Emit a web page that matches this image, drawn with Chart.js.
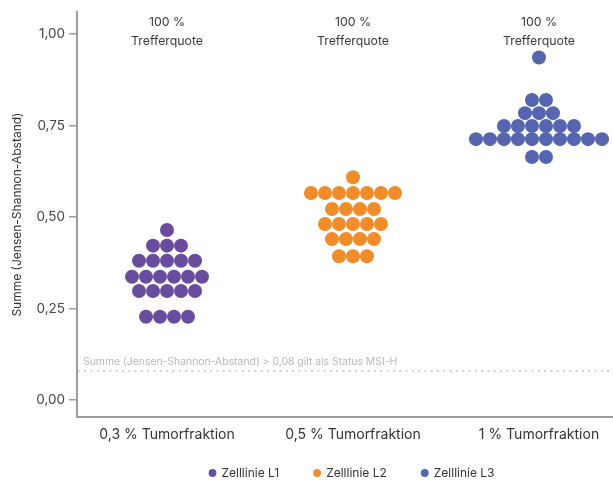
<!DOCTYPE html>
<html><head><meta charset="utf-8">
<script src="https://cdn.jsdelivr.net/npm/chart.js@4/dist/chart.umd.min.js"></script>
<style>html,body{margin:0;padding:0;background:#fff}#wrap{width:613px;height:482px;position:relative}</style>
</head><body><div id="wrap"><canvas id="c"></canvas></div>
<script>
const categories = ['0,3 % Tumorfraktion', '0,5 % Tumorfraktion', '1 % Tumorfraktion'];
const seriesNames = ['Zelllinie L1', 'Zelllinie L2', 'Zelllinie L3'];
const hitRates = ['100 %', '100 %', '100 %'];
const hitLabel = 'Trefferquote';
const yTicks = [0, 0.25, 0.5, 0.75, 1];
const threshold = 0.08;
const thresholdText = 'Summe (Jensen-Shannon-Abstand) > 0,08 gilt als Status MSI-H';
const yTitle = 'Summe (Jensen-Shannon-Abstand)';

// one value per replicate (dots)
const valuesL1 = [0.465,
  0.422, 0.422, 0.422,
  0.381, 0.381, 0.381, 0.381, 0.381,
  0.337, 0.337, 0.337, 0.337, 0.337, 0.337,
  0.298, 0.298, 0.298, 0.298, 0.298,
  0.228, 0.228, 0.228, 0.228];
const valuesL2 = [0.609,
  0.566, 0.566, 0.566, 0.566, 0.566, 0.566, 0.566,
  0.522, 0.522, 0.522, 0.522,
  0.481, 0.481, 0.481, 0.481, 0.481,
  0.440, 0.440, 0.440, 0.440,
  0.393, 0.393, 0.393];
const valuesL3 = [0.936,
  0.820, 0.820,
  0.784, 0.784, 0.784,
  0.749, 0.749, 0.749, 0.749, 0.749, 0.749,
  0.713, 0.713, 0.713, 0.713, 0.713, 0.713, 0.713, 0.713, 0.713, 0.713,
  0.664, 0.664];

const colors = ['#6a4c9f', '#f08c2a', '#5565b0'];
const DOT_STEP = 0.0753; // horizontal spacing of swarm dots in x-units

// simple beeswarm: equal values share a row, centred on the category
function swarm(values, cat) {
  const rows = new Map();
  values.forEach(v => { rows.set(v, (rows.get(v) || 0) + 1); });
  const pts = [];
  rows.forEach((n, v) => {
    for (let i = 0; i < n; i++) pts.push({ x: cat + (i - (n - 1) / 2) * DOT_STEP, y: v });
  });
  return pts;
}

const allValues = [valuesL1, valuesL2, valuesL3];
const datasets = allValues.map((vals, i) => ({
  label: seriesNames[i],
  data: swarm(vals, i),
  backgroundColor: colors[i],
  borderColor: colors[i],
  borderWidth: 0,
  pointRadius: 7,
  pointHoverRadius: 7
}));

const FONT = 'Inter, "Noto Sans", sans-serif';

const decor = {
  id: 'decor',
  afterLayout(chart) {
    // place the legend as in the original (slightly right of plot centre)
    const lg = chart.legend;
    if (lg) {
      lg.left = chart.chartArea.left + 14;
      lg.right = chart.chartArea.right;
      lg.width = lg.right - lg.left;
      lg.top = 432;
      lg.bottom = chart.height;
      lg.height = lg.bottom - lg.top;
    }
  },
  beforeDatasetsDraw(chart) {
    const { ctx, chartArea, scales } = chart;
    const y = scales.y.getPixelForValue(threshold);
    ctx.save();
    ctx.strokeStyle = '#c8c8c8';
    ctx.lineWidth = 1.6;
    ctx.setLineDash([1.8, 4.5]);
    ctx.beginPath();
    ctx.moveTo(chartArea.left + 1, y);
    ctx.lineTo(chartArea.right, y);
    ctx.stroke();
    ctx.setLineDash([]);
    ctx.fillStyle = '#b8b8b8';
    ctx.font = '10.4px ' + FONT;
    ctx.textAlign = 'left';
    ctx.textBaseline = 'middle';
    ctx.fillText(thresholdText, chartArea.left + 6, y - 9);
    ctx.fillStyle = '#3a3a3a';
    ctx.font = '12.3px ' + FONT;
    ctx.textAlign = 'center';
    categories.forEach((c, i) => {
      const x = scales.x.getPixelForValue(i);
      ctx.fillText(hitRates[i], x, chartArea.top + 10);
      ctx.fillText(hitLabel, x, chartArea.top + 29);
    });
    ctx.restore();
  }
};

new Chart(document.getElementById('c'), {
  type: 'scatter',
  data: { datasets },
  plugins: [decor],
  options: {
    responsive: true,
    maintainAspectRatio: false,
    animation: false,
    layout: { autoPadding: false, padding: { top: 12, right: 0, left: 6, bottom: 2 } },
    scales: {
      x: {
        type: 'linear',
        min: -0.484,
        max: 2.398,
        afterBuildTicks: s => { s.ticks = categories.map((c, i) => ({ value: i })); },
        afterFit: s => { s.height = 28; },
        ticks: {
          callback: v => categories[v],
          font: { family: FONT, size: 14 },
          color: '#333',
          padding: 9,
          maxRotation: 0
        },
        grid: { display: false, drawTicks: false },
        border: { display: true, color: '#9c9c9c', width: 2 }
      },
      y: {
        min: -0.046,
        max: 1.06,
        afterBuildTicks: s => { s.ticks = yTicks.map(v => ({ value: v })); },
        afterFit: s => { s.width = 71; },
        ticks: {
          callback: v => v.toFixed(2).replace('.', ','),
          font: { family: FONT, size: 13.5 },
          color: '#444',
          padding: 4
        },
        grid: { display: true, drawOnChartArea: false, drawTicks: true, tickLength: 8, color: '#9c9c9c', lineWidth: 1.5 },
        border: { display: true, color: '#9c9c9c', width: 2 },
        title: {
          display: true,
          text: yTitle,
          font: { family: FONT, size: 12 },
          color: '#333',
          padding: { top: 4, bottom: 4 }
        }
      }
    },
    plugins: {
      legend: {
        position: 'bottom',
        fullSize: false,
        maxHeight: 35,
        labels: {
          usePointStyle: true,
          pointStyle: 'circle',
          boxWidth: 6,
          boxHeight: 5.5,
          padding: 35,
          font: { family: FONT, size: 12 },
          color: '#333'
        }
      },
      tooltip: { enabled: false }
    }
  }
});
</script>
</body></html>
